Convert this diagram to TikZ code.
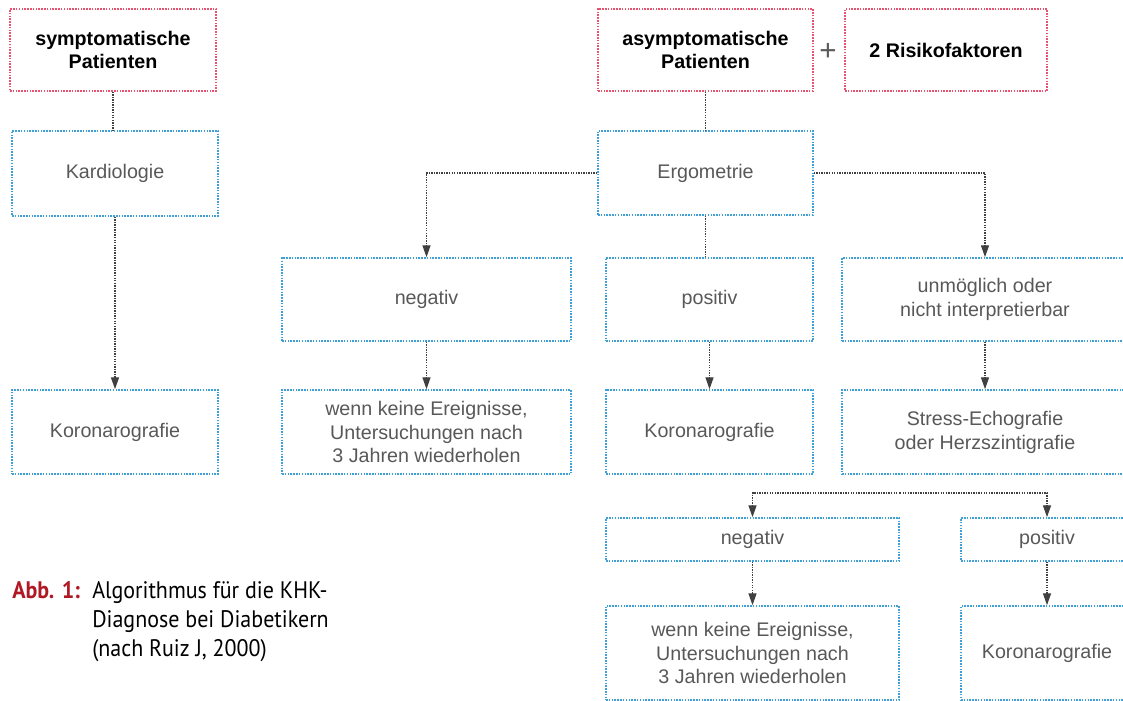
\documentclass[tikz,border=0pt]{standalone}
\usepackage{fontspec}
\setmainfont{Liberation Sans}
\newfontfamily\capfont[FakeStretch=0.92]{PT Sans}
\usetikzlibrary{arrows.meta,positioning}
\definecolor{boxred}{RGB}{232,84,112}
\definecolor{boxblue}{RGB}{62,160,214}
\definecolor{abbred}{RGB}{176,24,36}
\definecolor{txtgray}{RGB}{88,88,88}

\begin{document}
\begin{tikzpicture}[x=0.025cm,y=-0.025cm,
  box/.style={draw,line width=1.1pt,dash pattern=on 1.1pt off 0.9pt,inner sep=0pt,
    align=center,text=txtgray,font=\fontsize{14}{17}\selectfont},
  redbox/.style={box,draw=boxred,text=black,font=\fontsize{14}{17}\selectfont\bfseries},
  bluebox/.style={box,draw=boxblue},
  sz/.style 2 args={minimum width=#1*0.025cm,minimum height=#2*0.025cm},
  link/.style={draw=black!75,line width=1pt,dash pattern=on 1pt off 0.8pt},
  arrowed/.style={-{Triangle[length=8.5pt,width=5.7pt]}}]
\useasboundingbox (0,0) rectangle (1123,701);
\clip (0,0) rectangle (1123,701);

% left column
\node[redbox,sz={206}{82}] (sympt) at (113,50) {symptomatische\\Patienten};
\node[bluebox,sz={206}{85}] (kardio) at (115,173.5) {Kardiologie};
\node[bluebox,sz={206}{84}] (koroA) at (115,432) {Koronarografie};

% right part
\node[redbox,sz={215}{82}] (asympt) at (705.5,50) {asymptomatische\\Patienten};
\node[text=black!65,font=\fontsize{21}{21}\selectfont] (plus) at (828,52) {+};
\node[redbox,sz={202}{82}] (risiko) at (946,50) {2 Risikofaktoren};
\node[bluebox,sz={215}{84}] (ergo) at (705.5,173) {Ergometrie};

\node[bluebox,sz={289}{83}] (negA) at (426.5,299.5) {negativ};
\node[bluebox,sz={207}{83}] (posA) at (709.5,299.5) {positiv};
\node[bluebox,sz={286}{83}] (unmoeg) at (985,299.5) {unmöglich oder\\nicht interpretierbar};

\node[bluebox,sz={289}{84}] (wennA) at (426.5,432) {wenn keine Ereignisse,\\Untersuchungen nach\\3 Jahren wiederholen};
\node[bluebox,sz={207}{84}] (koroB) at (709.5,432) {Koronarografie};
\node[bluebox,sz={286}{84}] (stress) at (985,432) {Stress-Echografie\\oder Herzszintigrafie};

\node[bluebox,sz={293}{43}] (negB) at (752.5,539.5) {negativ};
\node[bluebox,sz={172}{43}] (posB) at (1047,539.5) {positiv};
\node[bluebox,sz={293}{94}] (wennB) at (752.5,653) {wenn keine Ereignisse,\\Untersuchungen nach\\3 Jahren wiederholen};
\node[bluebox,sz={172}{94}] (koroC) at (1047,653) {Koronarografie};

% connectors
\draw[link] (sympt.south) -- (sympt.south |- kardio.north);
\draw[link,arrowed] (kardio) -- (koroA);
\draw[link] (asympt) -- (ergo);
\draw[link,arrowed] (ergo.west) -| (negA.north);
\draw[link] (ergo.south) -- (ergo.south |- posA.north);
\draw[link,arrowed] (ergo.east) -| (unmoeg.north);
\draw[link,arrowed] (negA) -- (wennA);
\draw[link,arrowed] (posA) -- (koroB);
\draw[link,arrowed] (unmoeg) -- (stress);
\coordinate (split) at (900,493);
\draw[link,arrowed] (split) -| (negB.north);
\draw[link,arrowed] (split) -| (posB.north);
\draw[link,arrowed] (negB) -- (wennB);
\draw[link,arrowed] (posB) -- (koroC);

% caption
\node[anchor=base west,inner sep=0pt,text=abbred,font=\capfont\fontsize{17}{20.6}\selectfont\bfseries] (abb) at (12,598) {Abb. 1:};
\node[anchor=base west,inner sep=0pt,align=left,font=\capfont\fontsize{17}{20.6}\selectfont] (captxt) at (92,656) {Algorithmus für die KHK-\\Diagnose bei Diabetikern\\(nach Ruiz J, 2000)};
\end{tikzpicture}
\end{document}
